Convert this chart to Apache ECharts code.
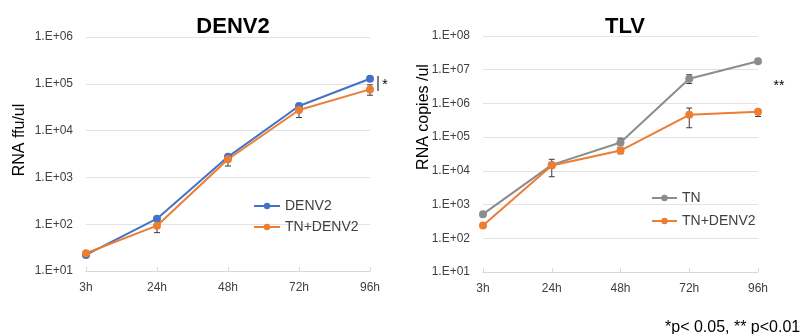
<!DOCTYPE html>
<html><head><meta charset="utf-8">
<script src="https://cdn.jsdelivr.net/npm/echarts@6/dist/echarts.min.js"></script>
<style>html,body{margin:0;padding:0;background:#fff}#c{width:812px;height:334px}</style>
</head><body><div id="c"></div>
<script>
// ---- data ----
const categories = ['3h', '24h', '48h', '72h', '96h'];
const denvMonoName = 'DENV2';
const coName = 'TN+DENV2';
const tlvMonoName = 'TN';
const denvMono = [22, 131, 2750, 33600, 128000];
const denvCo = [24, 93, 2440, 27600, 76000];
const tlvMono = [520, 15000, 69000, 5400000, 17800000];
const tlvCo = [240, 14500, 40000, 460000, 570000];
// error bars: [categoryIndex, low, high]
const denvMonoErr = [[2, 2400, 3100], [3, 31000, 36000]];
const denvCoErr = [[1, 66, 125], [2, 1750, 2700], [3, 19000, 33000], [4, 57000, 95000]];
const tlvMonoErr = [[2, 59000, 93000], [3, 3900000, 7100000], [4, 16000000, 19000000]];
const tlvCoErr = [[1, 6700, 22000], [2, 32000, 50000], [3, 190000, 730000], [4, 410000, 570000]];
const leftRange = [10, 1e6];
const rightRange = [10, 1e8];

const BLUE = '#4472C4', ORANGE = '#ED7D31', GRAY = '#8C8C8C';
const FONT = 'Liberation Sans';

function fmt(v) {
  const e = Math.round(Math.log10(v));
  return '1.E+' + String(e).padStart(2, '0');
}

function errSeries(name, data, xi, yi) {
  return {
    type: 'custom', name: name + ' err', xAxisIndex: xi, yAxisIndex: yi, z: 1,
    silent: true,
    data: data,
    renderItem: function (params, api) {
      const x = api.value(0);
      const lo = api.coord([x, api.value(1)]);
      const hi = api.coord([x, api.value(2)]);
      const w = 3;
      const st = { stroke: '#3a3a3a', lineWidth: 1 };
      return {
        type: 'group',
        children: [
          { type: 'line', shape: { x1: lo[0], y1: lo[1], x2: hi[0], y2: hi[1] }, style: st },
          { type: 'line', shape: { x1: lo[0] - w, y1: lo[1], x2: lo[0] + w, y2: lo[1] }, style: st },
          { type: 'line', shape: { x1: hi[0] - w, y1: hi[1], x2: hi[0] + w, y2: hi[1] }, style: st }
        ]
      };
    }
  };
}

function lineSeries(name, data, color, xi, yi) {
  return {
    type: 'line', name: name, data: data, xAxisIndex: xi, yAxisIndex: yi,
    symbol: 'circle', symbolSize: 8, z: 3,
    lineStyle: { color: color, width: 2 },
    itemStyle: { color: color }
  };
}

function xAxis(gi) {
  return {
    type: 'category', gridIndex: gi, data: categories, boundaryGap: false,
    axisLine: { lineStyle: { color: '#D9D9D9', width: 1 } },
    axisTick: { show: true, inside: true, length: 4, lineStyle: { color: '#D9D9D9' } },
    axisLabel: { color: '#404040', fontSize: 12, margin: 11, fontFamily: FONT },
    splitLine: { show: false }
  };
}
function yAxis(gi, range) {
  return {
    type: 'log', logBase: 10, gridIndex: gi, min: range[0], max: range[1],
    interval: 1,
    axisLine: { show: false }, axisTick: { show: false },
    axisLabel: { formatter: fmt, color: '#404040', fontSize: 12, margin: 13, fontFamily: FONT },
    splitLine: { lineStyle: { color: '#E3E3E3', width: 1 } },
    minorSplitLine: { show: false }
  };
}

const chart = echarts.init(document.getElementById('c'));
chart.setOption({
  backgroundColor: '#fff',
  animation: false,
  textStyle: { fontFamily: FONT },
  title: [
    { text: 'DENV2', left: 228, top: 11, textAlign: 'center', textStyle: { fontSize: 22, fontWeight: 'bold', color: '#000', fontFamily: FONT } },
    { text: 'TLV', left: 620, top: 11, textAlign: 'center', textStyle: { fontSize: 22, fontWeight: 'bold', color: '#000', fontFamily: FONT } }
  ],
  grid: [
    { left: 86, top: 37, width: 284, height: 234 },
    { left: 483, top: 36, width: 275, height: 236 }
  ],
  xAxis: [xAxis(0), xAxis(1)],
  yAxis: [yAxis(0, leftRange), yAxis(1, rightRange)],
  legend: [
    { data: [denvMonoName, coName], orient: 'vertical', left: 248, top: 194, itemWidth: 26, itemHeight: 8, itemGap: 7,
      textStyle: { fontSize: 14, color: '#404040', fontFamily: FONT } },
    { data: [tlvMonoName, coName], orient: 'vertical', left: 646, top: 186, itemWidth: 25, itemHeight: 8, itemGap: 9,
      textStyle: { fontSize: 14, color: '#404040', fontFamily: FONT } }
  ],
  series: [
    lineSeries(denvMonoName, denvMono, BLUE, 0, 0),
    lineSeries(coName, denvCo, ORANGE, 0, 0),
    errSeries(denvMonoName, denvMonoErr, 0, 0),
    errSeries('c1', denvCoErr, 0, 0),
    lineSeries(tlvMonoName, tlvMono, GRAY, 1, 1),
    lineSeries(coName, tlvCo, ORANGE, 1, 1),
    errSeries(tlvMonoName, tlvMonoErr, 1, 1),
    errSeries('c2', tlvCoErr, 1, 1)
  ],
  graphic: [
    { type: 'text', x: 20, y: 140, rotation: Math.PI / 2, style: { text: 'RNA ffu/ul', fill: '#000', font: '16px ' + FONT, align: 'center', verticalAlign: 'middle' } },
    { type: 'text', x: 424, y: 117, rotation: Math.PI / 2, style: { text: 'RNA copies /ul', fill: '#000', font: '16px ' + FONT, align: 'center', verticalAlign: 'middle' } },
    { type: 'line', shape: { x1: 378, y1: 76, x2: 378, y2: 91 }, style: { stroke: '#000', lineWidth: 1 } },
    { type: 'text', x: 385, y: 85, style: { text: '*', font: '14px ' + FONT, fill: '#000', align: 'center', verticalAlign: 'middle' } },
    { type: 'text', x: 779, y: 86, style: { text: '**', font: '14px ' + FONT, fill: '#000', align: 'center', verticalAlign: 'middle' } },
    { type: 'text', x: 665, y: 320, style: { text: '*p< 0.05, ** p<0.01', font: '16px ' + FONT, fill: '#000', align: 'left', verticalAlign: 'top' } }
  ]
});
</script>
</body></html>
